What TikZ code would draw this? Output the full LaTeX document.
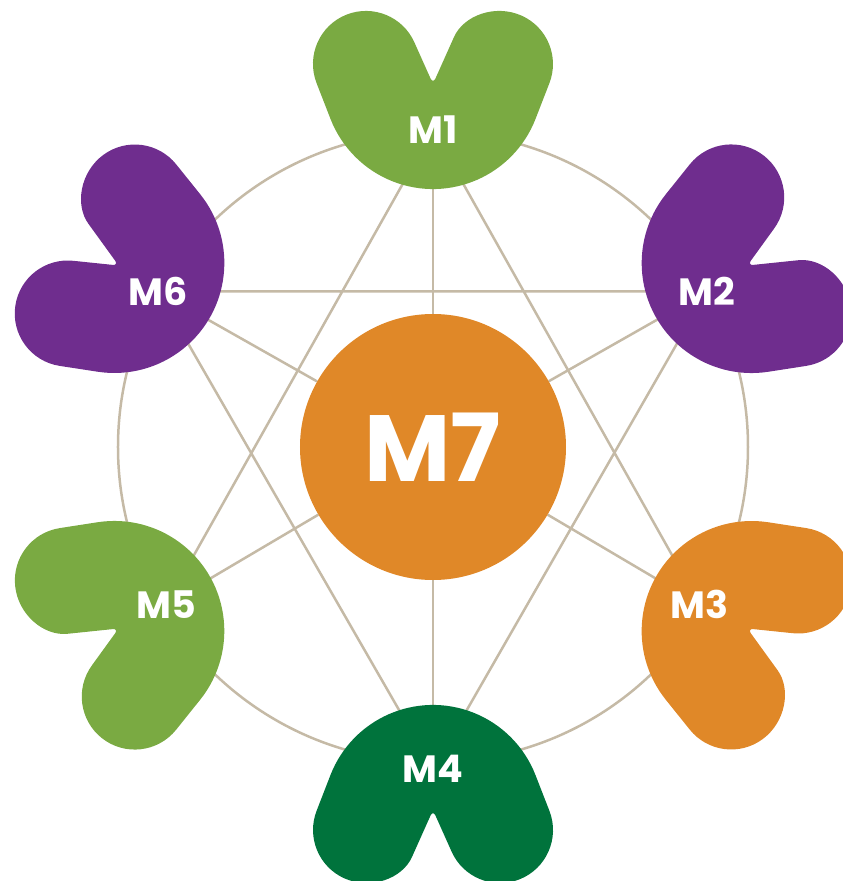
\documentclass[tikz,border=0pt]{standalone}
\usepackage{fontspec}
\newfontfamily\labelfont{Poppins}
\usetikzlibrary{backgrounds}

\definecolor{mgreen}{RGB}{122,170,66}
\definecolor{mpurple}{RGB}{111,45,142}
\definecolor{morange}{RGB}{224,136,40}
\definecolor{mdark}{RGB}{0,115,60}
\definecolor{linkbeige}{RGB}{197,186,166}

% #1 = spot the blob sits on, #2 = rotation, #3 = colour
\newcommand{\moduleblob}[3]{%
  \fill[#3,shift={(#1)},rotate=#2] (-18.6,89.6) [rounded corners=6pt] -- (0,48) -- (18.6,89.6) [sharp corners]
    arc[start angle=155.9,end angle=-21.3,radius=53pt] -- (102.5,13)
    arc[start angle=-21.3,end angle=-158.7,radius=110pt] -- (-116.4,48.8)
    arc[start angle=201.3,end angle=24.1,radius=53pt] -- cycle;}

\begin{document}
\begin{tikzpicture}[x=1pt,y=1pt]
  \tikzstyle{link}=[draw=linkbeige,line width=2.5pt]
  \tikzstyle{module}=[text=white,inner sep=2pt,font=\labelfont\bfseries\fontsize{38}{40}\selectfont]
  \tikzstyle{core}=[circle,fill=morange,minimum size=266pt,inner sep=0pt,text=white,font=\labelfont\bfseries\fontsize{94}{94}\selectfont]
  \useasboundingbox (-433,-434) rectangle (410,447);
  \node[core] (m7) at (0,0) {M7};
  % labels sit a little off the ring spots
  \foreach \i/\ang/\dx/\dy in {1/90/0/2,2/30/1/-2,3/-30/-6/0,4/-90/0/-7,5/210/6/0,6/150/-2/-2}
    \node[module,xshift=\dx,yshift=\dy] (m\i) at (\ang:315) {M\i};
  \begin{scope}[on background layer]
    \draw[link] (m7.center) circle[radius=315pt];
    \foreach \i in {1,...,6}
      \draw[link] (m\i) -- (m7);
    \draw[link] (m1) -- (m3) (m1) -- (m5) (m2) -- (m4) (m4) -- (m6) (m2) -- (m6);
    \foreach \ang/\rot/\col in {90/0/mgreen,30/-60/mpurple,-30/-120/morange,-90/180/mdark,210/120/mgreen,150/60/mpurple}
      \moduleblob{\ang:315}{\rot}{\col};
  \end{scope}
\end{tikzpicture}
\end{document}
